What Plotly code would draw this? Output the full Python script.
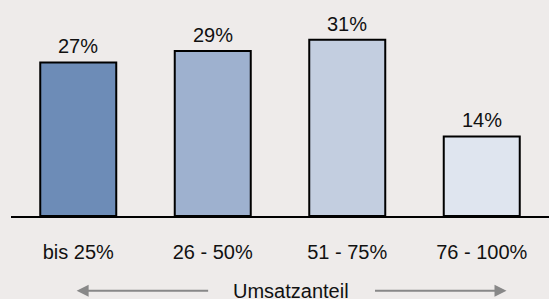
import plotly.graph_objects as go

categories = ["bis 25%", "26 - 50%", "51 - 75%", "76 - 100%"]
values = [27, 29, 31, 14]
value_labels = ["27%", "29%", "31%", "14%"]
bar_colors = ["#6D8CB7", "#9EB1CF", "#C3CEE0", "#DFE5EF"]
axis_title = "Umsatzanteil"

BG = "#EEEBEA"
FONT = "Liberation Sans, Arial, sans-serif"

fig = go.Figure()
fig.add_trace(go.Bar(
    x=list(range(len(categories))),
    y=values,
    marker=dict(color=bar_colors, line=dict(color="#000000", width=2)),
    cliponaxis=False,
    width=0.565,
    hoverinfo="skip",
))

for i, (v, lab) in enumerate(zip(values, value_labels)):
    fig.add_annotation(
        x=i, y=v, xref="x", yref="y", text=lab, showarrow=False,
        yanchor="bottom", yshift=3,
        font=dict(family=FONT, size=20, color="#111111"),
    )

fig.update_layout(
    width=549, height=299,
    margin=dict(l=11, r=0, t=17, b=83),
    paper_bgcolor=BG, plot_bgcolor=BG,
    showlegend=False,
    font=dict(family=FONT, size=20, color="#111111"),
    xaxis=dict(
        range=[-0.5, 3.5],
        tickmode="array",
        tickvals=list(range(len(categories))),
        ticktext=categories,
        showgrid=False, zeroline=False,
        showline=True, linecolor="#000000", linewidth=2,
        ticks="", ticklabelstandoff=17,
        tickfont=dict(family=FONT, size=20, color="#111111"),
        fixedrange=True,
    ),
    yaxis=dict(
        range=[0, 35], visible=False, showgrid=False, zeroline=False,
        fixedrange=True,
    ),
)

arrow_y = -0.375
# left arrow (tip on left)
fig.add_annotation(
    xref="paper", yref="paper", x=0.122, y=arrow_y,
    ax=133, ay=0, axref="pixel", ayref="pixel",
    showarrow=True, arrowhead=2, arrowsize=1.2, arrowwidth=2,
    arrowcolor="#888888", text="",
)
# right arrow (tip on right)
fig.add_annotation(
    xref="paper", yref="paper", x=0.921, y=arrow_y,
    ax=-133, ay=0, axref="pixel", ayref="pixel",
    showarrow=True, arrowhead=2, arrowsize=1.2, arrowwidth=2,
    arrowcolor="#888888", text="",
)
fig.add_annotation(
    xref="paper", yref="paper", x=0.52, y=arrow_y,
    xanchor="center", yanchor="middle",
    text=axis_title, showarrow=False,
    font=dict(family=FONT, size=20, color="#111111"),
)

fig.write_html(
    "out.html",
    config={"displayModeBar": False, "staticPlot": True},
    post_script="document.body.style.margin='0';document.body.style.background='%s';" % BG,
)
